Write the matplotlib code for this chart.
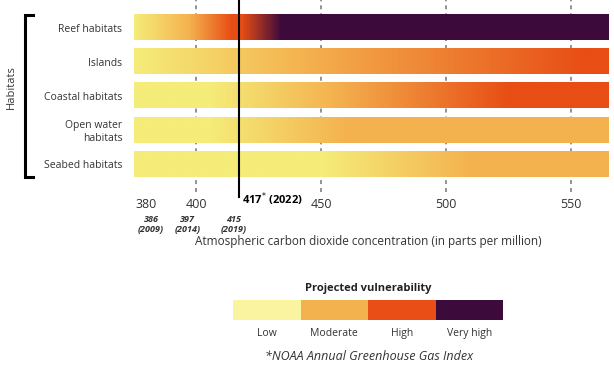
import numpy as np
import matplotlib
matplotlib.use("Agg")
import matplotlib.pyplot as plt
from matplotlib.colors import LinearSegmentedColormap
from matplotlib.lines import Line2D

plt.rcParams['font.family'] = ['Open Sans', 'DejaVu Sans']

# habitats, top to bottom
habitats = ["Reef habitats", "Islands", "Coastal habitats", "Open water\nhabitats", "Seabed habitats"]

# vulnerability level stops along the CO2 axis (0=low, 1=moderate, 2=high, 3=very high)
stops_ppm = [
    [375, 397, 414, 418, 434, 565],
    [375, 443, 555, 565],
    [375, 405, 455, 525, 565],
    [375, 405, 460, 565],
    [375, 450, 510, 565],
]
stops_level = [
    [0, 1, 2, 2, 3, 3],
    [0, 1, 2, 2],
    [0, 0, 1, 2, 2],
    [0, 0, 1, 1],
    [0, 0, 1, 1],
]

ppm_min, ppm_max = 375, 565
xticks = [380, 400, 450, 500, 550]
grid_ppm = [400, 450, 500, 550]
current_ppm = 417
current_label = "417$^{*}$ (2022)"
past_pos = [382, 396.5, 415]
past_labels = ["386\n(2009)", "397\n(2014)", "415\n(2019)"]

levels = ["Low", "Moderate", "High", "Very high"]
bar_colors = ["#F5EC79", "#F4B24F", "#E84E15", "#3D0A3C"]
legend_colors = ["#FAF3A0", "#F4B24F", "#E84E15", "#3D0A3C"]

txt = "#333333"
cmap = LinearSegmentedColormap.from_list("vuln", bar_colors)

fig = plt.figure(figsize=(6.14, 3.75), dpi=100)
W, H = 614, 375
ax = fig.add_axes([133.5 / W, 1 - 192 / H, 475 / W, 192 / H])

xs = np.linspace(ppm_min, ppm_max, 600)
bh = 0.37
for i in range(len(habitats)):
    vals = np.interp(xs, stops_ppm[i], stops_level[i])
    ax.imshow(vals[np.newaxis, :], cmap=cmap, vmin=0, vmax=3, aspect='auto',
              extent=(ppm_min, ppm_max, i + bh, i - bh), interpolation='bilinear', zorder=2)

for g in grid_ppm:
    ax.axvline(g, color='#8a8a8a', lw=1.3, ls=(0, (2.2, 2.2)), zorder=1)

ax.axvline(current_ppm, ymin=-0.028, ymax=1, color='black', lw=1.5, zorder=3, clip_on=False)
ax.text(current_ppm + 1.5, -0.035, current_label, transform=ax.get_xaxis_transform(),
        fontsize=8, fontweight='bold', color='black', ha='left', va='center')

ax.set_xlim(ppm_min, ppm_max)
ax.set_ylim(4.82, -0.806)
ax.set_xticks(xticks)
ax.set_xticklabels([str(t) for t in xticks], fontsize=9, color=txt)
ax.set_yticks(range(len(habitats)))
ax.set_yticklabels(habitats, fontsize=7.5, color=txt, linespacing=1.2)
ax.tick_params(axis='both', length=0)
ax.tick_params(axis='x', pad=4)
ax.tick_params(axis='y', pad=8)
for s in ax.spines.values():
    s.set_visible(False)

for p, lab in zip(past_pos, past_labels):
    ax.text(p, -0.17, lab, transform=ax.get_xaxis_transform(), fontsize=6.5,
            fontweight='bold', fontstyle='italic', color=txt, ha='center', va='center',
            linespacing=1.05)

fig.text(368 / W, 1 - 242 / H, "Atmospheric carbon dioxide concentration (in parts per million)",
         fontsize=8.5, color=txt, ha='center', va='center')

# habitats bracket
fig.text(11 / W, 1 - 87 / H, "Habitats", rotation=90, fontsize=8, color=txt, ha='center', va='center')
bx = [33 / W, 25 / W, 25 / W, 33 / W]
by = [1 - 15 / H, 1 - 15 / H, 1 - 177 / H, 1 - 177 / H]
fig.add_artist(Line2D(bx, by, color='black', lw=2.2, solid_joinstyle='miter', transform=fig.transFigure))

# legend
lax = fig.add_axes([233 / W, 1 - 320 / H, 270 / W, 20 / H])
lax.bar(range(len(levels)), [1] * len(levels), width=1.0, color=legend_colors)
lax.set_xlim(-0.5, len(levels) - 0.5)
lax.set_ylim(0, 1)
lax.set_xticks(range(len(levels)))
lax.set_xticklabels(levels, fontsize=7.5, color=txt)
lax.tick_params(axis='x', length=0, pad=6)
lax.set_yticks([])
for s in lax.spines.values():
    s.set_visible(False)
fig.text(368 / W, 1 - 289 / H, "Projected vulnerability", fontsize=8, fontweight='bold',
         color='#222222', ha='center', va='center')
fig.text(369 / W, 1 - 356 / H, "*NOAA Annual Greenhouse Gas Index", fontsize=9,
         fontstyle='italic', color=txt, ha='center', va='center')

fig.savefig("out.png", dpi=100)
